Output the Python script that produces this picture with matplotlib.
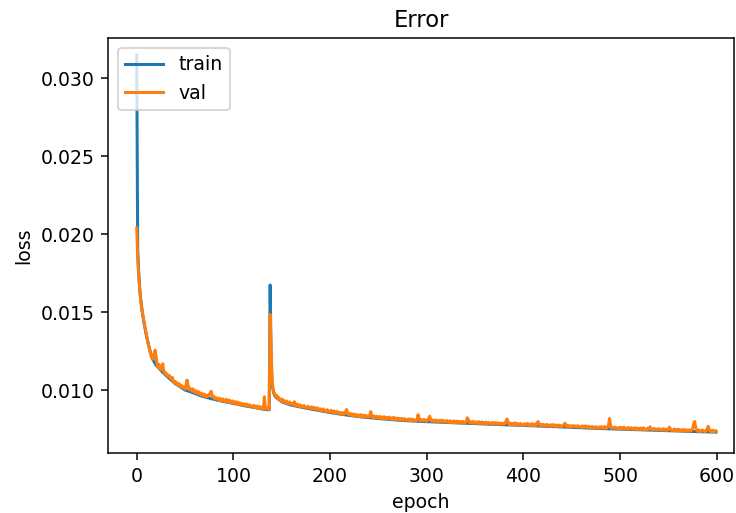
import matplotlib
matplotlib.use("Agg")
import matplotlib.pyplot as plt

# losses in units of 1e-5
val_loss_e5 = [
    2040, 1845, 1740, 1650, 1582, 1535, 1494, 1458, 1424, 1390, 1358, 1322, 1296, 1270, 1246, 1216, 1203, 1198, 1232, 1256,
    1212, 1172, 1148, 1165, 1136, 1131, 1150, 1168, 1121, 1106, 1112, 1093, 1098, 1086, 1092, 1074, 1070, 1080, 1051, 1047,
    1055, 1036, 1044, 1028, 1040, 1021, 1030, 1014, 1022, 1012, 1006, 1030, 1064, 1035, 1003, 1012, 1001, 994, 1008, 993,
    984, 996, 988, 976, 990, 975, 969, 980, 970, 962, 975, 958, 964, 957, 970, 968, 976, 992, 962, 951,
    958, 942, 944, 950, 940, 934, 948, 932, 931, 943, 928, 936, 926, 940, 925, 922, 935, 920, 919, 930,
    917, 915, 926, 912, 910, 922, 906, 905, 916, 903, 904, 912, 902, 898, 910, 901, 895, 905, 898, 893,
    892, 902, 889, 888, 898, 886, 884, 895, 882, 881, 892, 879, 957, 890, 878, 885, 876, 874, 1485, 1250,
    1064, 1010, 982, 966, 957, 965, 944, 952, 936, 931, 942, 925, 935, 921, 918, 930, 915, 913, 924, 910,
    908, 915, 904, 925, 901, 899, 910, 903, 895, 905, 892, 896, 889, 900, 892, 886, 885, 896, 883, 884,
    882, 892, 884, 878, 888, 880, 874, 885, 876, 870, 880, 868, 872, 878, 866, 869, 862, 874, 866, 860,
    860, 870, 862, 855, 866, 857, 851, 862, 854, 848, 858, 847, 846, 856, 844, 850, 860, 875, 852, 841,
    840, 850, 843, 836, 846, 839, 834, 844, 838, 831, 840, 829, 842, 828, 836, 827, 838, 826, 834, 831,
    826, 838, 862, 832, 823, 834, 822, 821, 832, 820, 828, 819, 830, 818, 826, 817, 829, 816, 824, 821,
    815, 826, 819, 813, 822, 811, 824, 812, 810, 820, 810, 818, 813, 808, 818, 812, 807, 816, 811, 806,
    806, 815, 805, 804, 814, 803, 812, 807, 804, 802, 816, 842, 818, 803, 810, 806, 802, 812, 804, 801,
    800, 810, 818, 832, 810, 799, 808, 802, 798, 808, 796, 804, 803, 797, 806, 800, 796, 806, 794, 800,
    795, 804, 794, 793, 803, 792, 798, 791, 802, 794, 790, 800, 797, 790, 798, 795, 789, 799, 794, 788,
    790, 804, 822, 808, 792, 798, 791, 787, 799, 789, 786, 796, 787, 785, 797, 788, 786, 795, 784, 790,
    785, 794, 783, 786, 792, 789, 784, 782, 793, 781, 783, 792, 782, 780, 790, 781, 779, 789, 786, 780,
    780, 790, 800, 814, 793, 779, 788, 778, 786, 777, 780, 790, 776, 779, 786, 781, 775, 785, 776, 774,
    776, 784, 774, 777, 786, 776, 782, 772, 775, 784, 771, 774, 782, 772, 785, 798, 786, 772, 770, 780,
    771, 778, 769, 772, 780, 775, 770, 768, 778, 767, 770, 779, 768, 766, 776, 767, 765, 775, 772, 766,
    766, 774, 780, 787, 772, 764, 774, 765, 763, 772, 764, 766, 772, 765, 768, 763, 771, 764, 766, 762,
    761, 770, 760, 763, 770, 760, 758, 768, 759, 761, 757, 766, 763, 758, 756, 765, 761, 757, 755, 764,
    756, 764, 755, 757, 766, 754, 756, 762, 778, 818, 772, 755, 760, 757, 754, 763, 756, 753, 751, 760,
    752, 760, 751, 753, 762, 750, 752, 749, 760, 751, 749, 758, 755, 748, 750, 758, 748, 747, 756, 748,
    748, 756, 746, 749, 758, 746, 748, 745, 755, 747, 757, 764, 752, 745, 747, 754, 749, 746, 744, 752,
    744, 750, 743, 747, 742, 752, 743, 748, 741, 744, 752, 762, 748, 741, 743, 740, 750, 742, 740, 748,
    740, 747, 739, 743, 738, 748, 739, 737, 746, 738, 736, 745, 738, 736, 744, 755, 782, 798, 762, 742,
    736, 744, 735, 738, 734, 743, 740, 735, 733, 742, 750, 767, 747, 734, 741, 733, 742, 735, 732, 738,
]

# training loss is mostly hidden under val, so it is read at coarser epochs
train_epochs = [
    0, 1, 2, 3, 4, 5, 6, 7, 8, 9, 10, 12, 14, 16, 18, 20, 23, 26, 30, 35,
    40, 45, 50, 55, 60, 65, 70, 75, 80, 85, 90, 95, 100, 105, 110, 115, 120, 125, 130, 135,
    137, 138, 139, 140, 141, 142, 143, 145, 150, 155, 160, 165, 170, 175, 180, 190, 200, 210, 220, 230,
    240, 250, 260, 270, 280, 290, 300, 320, 340, 360, 380, 400, 420, 440, 460, 480, 500, 520, 540, 560,
    580, 599,
]
train_loss_e5 = [
    3150, 1900, 1760, 1660, 1590, 1535, 1490, 1450, 1415, 1382, 1350, 1295, 1245, 1205, 1180, 1160, 1140, 1120, 1095, 1068,
    1040, 1020, 1000, 990, 978, 966, 956, 948, 940, 933, 926, 920, 914, 908, 901, 895, 890, 884, 878, 874,
    873, 1674, 1200, 1040, 1000, 975, 960, 948, 925, 913, 903, 897, 890, 884, 878, 867, 856, 846, 837, 829,
    823, 817, 812, 807, 803, 800, 797, 792, 787, 782, 777, 773, 768, 763, 758, 753, 749, 745, 741, 737,
    733, 730,
]

val_epochs = list(range(len(val_loss_e5)))
val_loss = [v * 1e-5 for v in val_loss_e5]
train_loss = [v * 1e-5 for v in train_loss_e5]

DPI = 136
fig = plt.figure(figsize=(736 / DPI, 513 / DPI), dpi=DPI)
ax = fig.add_axes([108.3 / 736, 1 - 453.3 / 513, (734 - 108.3) / 736, (453.3 - 38.3) / 513])

ax.plot(train_epochs, train_loss, color="#1f77b4", linewidth=1.6, label="train")
ax.plot(val_epochs, val_loss, color="#ff7f0e", linewidth=1.6, label="val")

ax.set_xlim(-29.4, 617.7)
ax.set_ylim(0.00594, 0.03257)
ax.set_xticks([0, 100, 200, 300, 400, 500, 600])
ax.set_yticks([0.010, 0.015, 0.020, 0.025, 0.030])
ax.set_title("Error")
ax.set_xlabel("epoch")
ax.set_ylabel("loss")
ax.legend(loc="upper left")

fig.savefig("out.png", dpi=DPI, facecolor="white")
